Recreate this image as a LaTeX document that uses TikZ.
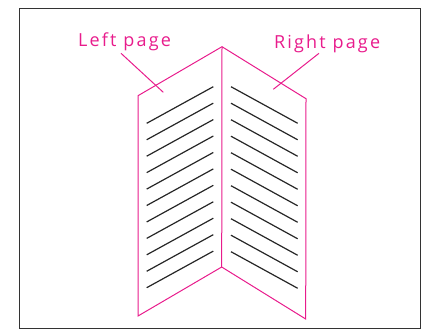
\documentclass[tikz,border=0pt]{standalone}
\usepackage{fontspec}
\setsansfont{Open Sans}[LetterSpace=12]
\definecolor{bookpink}{RGB}{232,28,140}
\tikzset{
    pageedge/.style={draw=bookpink, line width=1pt, line join=miter},
    textline/.style={draw=black!85, line width=1.2pt},
    pagelabel/.style={text=bookpink, font=\sffamily\fontsize{18}{18}\selectfont, inner sep=0pt, anchor=base west},
}

\begin{document}
\begin{tikzpicture}[x=1pt, y=-1pt]
    \useasboundingbox (0,0) rectangle (428,330);
    \draw[black!80, line width=0.9pt] (19,8) rectangle (420,328);
    % corners of the open book
    \coordinate (top) at (222,46.7);
    \coordinate (lefttop) at (138,95.7);
    \coordinate (leftbot) at (138,316);
    \coordinate (spinebot) at (221.7,267);
    \coordinate (righttop) at (306,98.7);
    \coordinate (rightbot) at (305.7,319);
    \draw[pageedge] (lefttop) -- (top) -- (righttop) -- (rightbot) -- (spinebot) -- (leftbot) -- cycle;
    \draw[pageedge] (top) -- (spinebot);
    % lines of text
    \foreach \k in {0,...,10} {
        \draw[textline] (146.7,123.3+16.44*\k) -- (213.3,86.7+16.44*\k);
        \draw[textline] (231,86.7+16.5*\k) -- (297.7,123.3+16.5*\k);
    }
    % labels
    \node[pagelabel] (leftlabel) at (78,46) {Left page};
    \node[pagelabel] (rightlabel) at (274,48.3) {Right page};
    \coordinate (leftfrom) at (121,53.3);
    \coordinate (leftto) at (163.3,92.3);
    \coordinate (rightfrom) at (319,53.3);
    \coordinate (rightto) at (273.3,89.3);
    \draw[pageedge] (leftfrom) -- (leftto);
    \draw[pageedge] (rightfrom) -- (rightto);
\end{tikzpicture}
\end{document}
